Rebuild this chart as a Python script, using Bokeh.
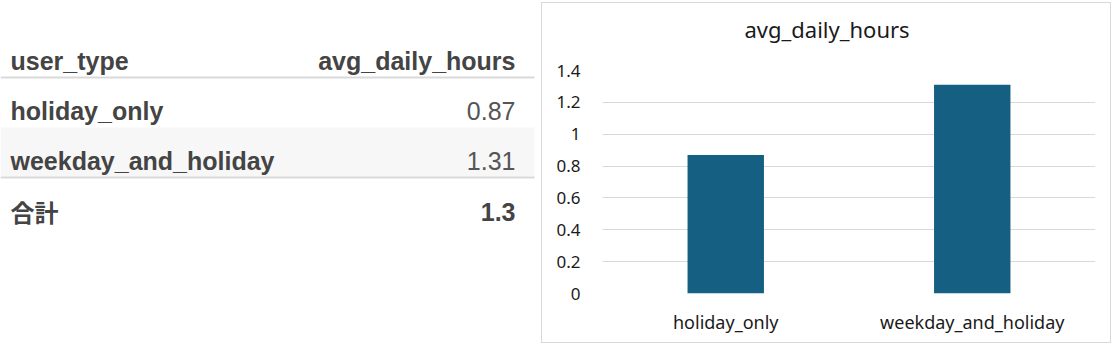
from bokeh.plotting import figure
from bokeh.models import Range1d, FactorRange, FixedTicker, ColumnDataSource, Title
from bokeh.layouts import row, column
from bokeh.core.properties import value
from bokeh.embed import file_html
from bokeh.resources import INLINE

# ---- data ----
header = ["user_type", "avg_daily_hours"]
categories = ["holiday_only", "weekday_and_holiday"]
values = [0.87, 1.31]
value_labels = ["0.87", "1.31"]
total_name = "合計"
total_value = "1.3"
chart_title = "avg_daily_hours"
y_ticks = [0, 0.2, 0.4, 0.6, 0.8, 1.0, 1.2, 1.4]
y_tick_labels = ["0", "0.2", "0.4", "0.6", "0.8", "1", "1.2", "1.4"]

# ---- table (left) ----
TW, TH = 541, 346
t = figure(width=TW, height=TH, x_range=Range1d(0, TW), y_range=Range1d(TH, 0),
           output_backend="svg", toolbar_location=None, min_border=0)
t.axis.visible = False
t.grid.visible = False
t.outline_line_color = None
t.background_fill_color = "white"
t.border_fill_color = "white"

left_x, right_x, line_end = 10, 515, 534
header_base = 60
row_bases = [110, 160]
total_base = 211
text_col = "#444444"
num_col = "#555555"

t.quad(left=[0], right=[line_end], top=[127], bottom=[176], fill_color="#f7f7f7", line_color=None)
t.segment(x0=[0, 0], x1=[line_end, line_end], y0=[77, 177], y1=[77, 177],
          line_color="#d9d9d9", line_width=2)

font = value("Liberation Sans")
t.text(x=[left_x], y=[header_base], text=[header[0]], text_font=font, text_font_size="25px",
       text_font_style="bold", text_color=text_col, text_align="left", text_baseline="alphabetic")
t.text(x=[right_x], y=[header_base], text=[header[1]], text_font=font, text_font_size="25px",
       text_font_style="bold", text_color=text_col, text_align="right", text_baseline="alphabetic")
t.text(x=[left_x] * len(categories), y=row_bases, text=categories, text_font=font,
       text_font_size="25px", text_font_style="bold", text_color=text_col,
       text_align="left", text_baseline="alphabetic")
t.text(x=[right_x] * len(value_labels), y=row_bases, text=value_labels, text_font=font,
       text_font_size="25px", text_color=num_col, text_align="right", text_baseline="alphabetic")
t.text(x=[left_x], y=[total_base], text=[total_name], text_font=value("Noto Sans CJK JP"),
       text_font_size="24px", text_font_style="bold", text_color=text_col,
       text_align="left", text_baseline="alphabetic")
t.text(x=[right_x], y=[total_base], text=[total_value], text_font=font, text_font_size="25px",
       text_font_style="bold", text_color=text_col, text_align="right", text_baseline="alphabetic")

# ---- bar chart (right) ----
cfont = "Noto Sans"
src = ColumnDataSource(dict(cat=categories, val=values))
p = figure(width=570, height=341, x_range=FactorRange(*categories), y_range=Range1d(0, 1.4),
           output_backend="svg", toolbar_location=None,
           min_border_left=60, min_border_right=17, min_border_top=67, min_border_bottom=51,
           margin=(2, 0, 0, 0),
           styles={"border": "1px solid #d9d9d9", "box-sizing": "border-box"})
p.vbar(x="cat", top="val", width=0.31, source=src, fill_color="#156082", line_color=None)

ttl = Title(text=chart_title, align="left", vertical_align="top", text_font=cfont,
            text_font_size="22px", text_font_style="normal", text_color="#1a1a1a",
            standoff=0, offset=142, padding=(0, 0, 0, 25))
p.add_layout(ttl, "above")

p.outline_line_color = None
p.xgrid.grid_line_color = None
p.ygrid.grid_line_color = "#d9d9d9"
p.ygrid.ticker = FixedTicker(ticks=y_ticks)

p.yaxis.ticker = FixedTicker(ticks=y_ticks)
p.yaxis.major_label_overrides = {tk: lb for tk, lb in zip(y_ticks, y_tick_labels)}
p.yaxis.axis_line_color = None
p.yaxis.major_tick_line_color = None
p.yaxis.minor_tick_line_color = None
p.yaxis.major_tick_out = 0
p.yaxis.major_label_standoff = 22
p.yaxis.major_label_text_font = cfont
p.yaxis.major_label_text_font_size = "17px"
p.yaxis.major_label_text_color = "#1a1a1a"

p.xaxis.axis_line_color = None
p.xaxis.major_tick_line_color = None
p.xaxis.major_tick_out = 0
p.xaxis.major_label_standoff = 16
p.xaxis.major_label_text_font = cfont
p.xaxis.major_label_text_font_size = "18px"
p.xaxis.major_label_text_color = "#1a1a1a"

layout = row(column(t), column(p))
open("out.html", "w").write(file_html(layout, INLINE))
